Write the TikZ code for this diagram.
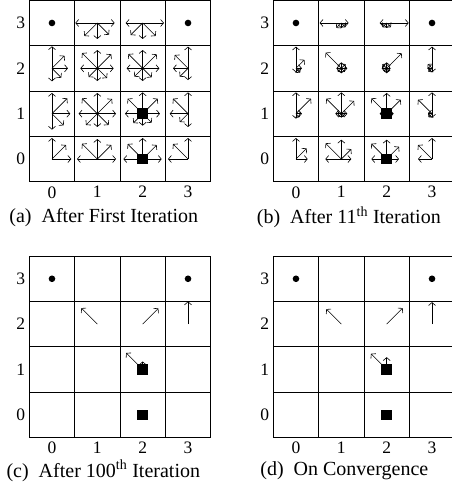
\documentclass[tikz,border=0pt]{standalone}
\usepackage{fontspec}
\setmainfont{Liberation Serif}
\usetikzlibrary{arrows.meta, positioning}

% one grid world: name, lower left corner (x, y)
\newcommand{\gridworld}[3]{%
  \foreach \c in {0,...,3} \foreach \r in {0,...,3}
    \node[cellbox] (#1-\c\r) at ({#2+(\c+0.5)*45.35}, {#3+(\r+0.5)*45.35}) {};
  \foreach \c in {0,...,3}
    \node[lbl, below=4.5pt of #1-\c0] (#1-x\c) {\c};
  \foreach \r in {0,...,3}
    \node[lbl, left=4pt of #1-0\r] (#1-y\r) {\r};
}
% policy arrows of one cell: angle/length pairs
\newcommand{\policy}[2]{%
  \foreach \ang/\len in {#2}
    \draw[vec] (#1.center) -- ++(\ang:\len pt);
}

\begin{document}
\begin{tikzpicture}[x=1pt, y=1pt,
    cellbox/.style={rectangle, draw, line width=0.8pt, minimum size=45.35pt, inner sep=0pt, outer sep=0pt},
    lbl/.style={inner sep=0pt, font=\fontsize{17.5}{20}\selectfont},
    caption/.style={inner sep=0pt, anchor=base, font=\fontsize{20}{24}\selectfont},
    vec/.style={-{Straight Barb[length=3pt, width=7pt]}, line width=0.6pt},
    goal/.style={circle, fill, minimum size=6.6pt, inner sep=0pt},
    trap/.style={rectangle, fill, minimum size=10.5pt, inner sep=0pt}]
  \useasboundingbox (0,0) rectangle (451,491);

  \gridworld{a}{29.3}{309.3}
  \gridworld{b}{273.3}{309.3}
  \gridworld{c}{29.3}{53.5}
  \gridworld{d}{273.3}{53.5}

  % (a) after first iteration
  \policy{a-13}{180/22, 0/17.3, 225/18.4, 270/16, 315/16.5}
  \policy{a-23}{180/17, 0/21.3, 225/17, 270/16, 315/18.4}
  \policy{a-02}{90/22, 270/13, 45/17.7, 0/16, 315/13.2}
  \policy{a-12}{90/18.3, 135/21.6, 45/19.8, 180/17, 0/16.3, 225/12.3, 270/12.7, 315/13.7}
  \policy{a-22}{90/18.3, 135/20.2, 45/19.8, 180/16, 0/16.7, 225/11.7, 270/12.7, 315/12.7}
  \policy{a-32}{90/21.7, 270/11.7, 135/18.8, 180/15, 225/11.7}
  \policy{a-01}{90/20.7, 270/16, 45/21.6, 0/18.3, 315/16.5}
  \policy{a-11}{90/20.7, 135/21.6, 45/20.8, 180/18.7, 0/18.7, 225/16, 270/13.3, 315/16}
  \policy{a-21}{90/21.3, 135/21.2, 45/21.2, 180/17.7, 0/17.3, 225/13.2, 270/12, 315/12.7}
  \policy{a-31}{90/21.3, 270/13.3, 135/21.2, 180/18.3, 225/11.7}
  \policy{a-00}{90/21, 45/19.8, 0/19.3}
  \policy{a-10}{90/20, 135/21.6, 45/19.8, 180/20.3, 0/18.7}
  \policy{a-20}{90/21, 135/21.2, 45/19.8, 180/19.3, 0/19}
  \policy{a-30}{90/21, 135/21.2, 180/20}

  % (b) after 11th iteration
  \policy{b-13}{180/21.7, 0/7.3, 225/7, 270/5, 315/6}
  \policy{b-23}{180/7, 0/22, 225/6, 270/5, 315/6}
  \policy{b-02}{90/21.7, 270/4, 45/12, 0/6, 315/6}
  \policy{b-12}{135/22.2, 90/6, 45/6, 0/6, 180/5, 225/5, 270/5, 315/5}
  \policy{b-22}{45/21.2, 90/6, 135/6, 180/5, 0/4, 225/4, 270/5, 315/4}
  \policy{b-32}{90/21.7, 270/4, 135/6, 180/4, 225/5}
  \policy{b-01}{90/21.3, 270/5, 45/21.2, 0/6, 315/5}
  \policy{b-11}{90/21.3, 135/21.2, 45/18, 180/6, 0/6, 225/4, 270/4, 315/4}
  \policy{b-21}{90/20.7, 135/21.6, 45/19.8, 180/7, 0/7, 225/4, 270/4, 315/4}
  \policy{b-31}{90/21.3, 135/19.8, 180/4, 225/5, 270/4}
  \policy{b-00}{90/21, 45/15, 0/11.7}
  \policy{b-10}{90/19.3, 135/22.2, 45/14, 180/16, 0/10}
  \policy{b-20}{90/19.3, 135/21.6, 45/17.4, 180/15.3, 0/12.3}
  \policy{b-30}{90/21, 135/19.8, 180/14}

  % (c) after 100th iteration
  \policy{c-12}{135/22.6}
  \policy{c-22}{45/22.2}
  \policy{c-32}{90/22.7}
  \policy{c-21}{135/23.3, 90/8}

  % (d) on convergence
  \policy{d-12}{135/21.2}
  \policy{d-22}{45/22.6}
  \policy{d-32}{90/22}
  \policy{d-21}{135/22.2, 90/12.3}

  % goals and traps
  \foreach \g in {a,b,c,d} {
    \node[goal] (\g-goal0) at (\g-03) {};
    \node[goal] (\g-goal3) at (\g-33) {};
    \node[trap] (\g-trap0) at (\g-20) {};
    \node[trap] (\g-trap1) at (\g-21) {};
  }

  \node[caption] (cap-a) at (103.8,268.3) {(a)\enspace After First Iteration};
  \node[caption] (cap-b) at (348.8,267) {(b)\enspace After 11\textsuperscript{th} Iteration};
  \node[caption] (cap-c) at (103.3,13.7) {(c)\enspace After 100\textsuperscript{th} Iteration};
  \node[caption] (cap-d) at (344.3,16) {(d)\enspace On Convergence};
\end{tikzpicture}
\end{document}
